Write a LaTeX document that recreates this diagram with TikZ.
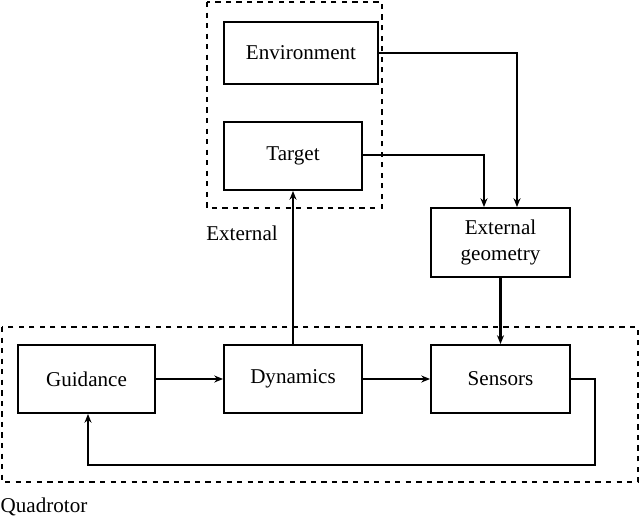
\documentclass[tikz,border=0pt]{standalone}
\usepackage{fontspec}
\setmainfont{Liberation Serif}
\usetikzlibrary{arrows.meta}
\begin{document}
\begin{tikzpicture}[x=0.02cm,y=-0.02cm,
  blk/.style={draw,line width=1.1pt,inner sep=0pt,align=center,font=\fontsize{12}{14}\selectfont},
  grp/.style={draw,dashed,line width=0.9pt},
  lbl/.style={font=\fontsize{12}{14}\selectfont},
  arr/.style={-{Stealth[length=5pt,width=4pt]},line width=0.8pt},
  tarr/.style={arr,line width=1.2pt}]
\useasboundingbox (0,0) rectangle (640,518);
\draw[grp] (207,2) rectangle (382,208);
\draw[grp] (2,327) rectangle (638,482);
\node[lbl] (lext) at (242,233) {External};
\node[lbl] (lquad) at (44,507) {Quadrotor};
\node[blk,minimum width=154*0.02cm,minimum height=62*0.02cm] (env) at (301,53) {Environment};
\node[blk,minimum width=138*0.02cm,minimum height=68*0.02cm] (tgt) at (293,156) {Target};
\node[blk,minimum width=139*0.02cm,minimum height=69*0.02cm] (geo) at (500.5,242.5) {External\\[1pt]geometry};
\node[blk,minimum width=137*0.02cm,minimum height=68*0.02cm] (gui) at (86.5,379) {Guidance};
\node[blk,minimum width=138*0.02cm,minimum height=68*0.02cm] (dyn) at (293,379) {Dynamics};
\node[blk,minimum width=139*0.02cm,minimum height=68*0.02cm] (sen) at (500.5,379) {Sensors};
\coordinate (c1) at (517,53);
\coordinate (c2) at (484,155);
\coordinate (c3) at (595,379);
\coordinate (c4) at (595,465);
\coordinate (c5) at (88,465);
\draw[arr] (env.east) -- (c1) -- (c1 |- geo.north);
\draw[arr] (tgt.east |- c2) -- (c2) -- (c2 |- geo.north);
\draw[tarr] (dyn.north) -- (tgt.south);
\draw[tarr] (geo.south) -- (sen.north);
\draw[arr] (gui.east) -- (dyn.west);
\draw[arr] (dyn.east) -- (sen.west);
\draw[arr] (sen.east) -- (c3) -- (c4) -- (c5) -- (c5 |- gui.south);
\end{tikzpicture}
\end{document}
